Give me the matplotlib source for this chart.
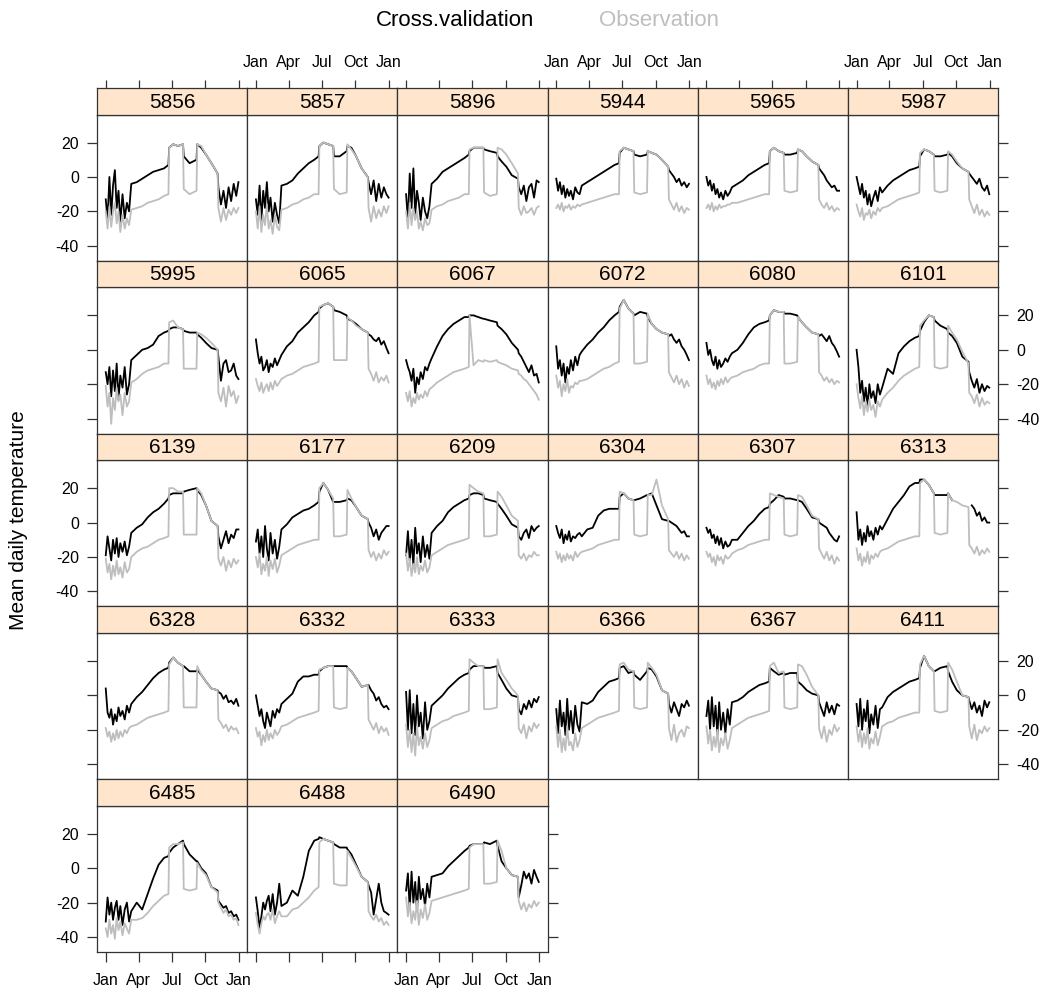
import numpy as np
import matplotlib
matplotlib.use("Agg")
import matplotlib.pyplot as plt

plt.rcParams['font.family'] = ['Liberation Sans', 'DejaVu Sans']

nan = np.nan

# day of year of each reading
days = [0, 5, 10, 15, 20, 25, 30, 35, 40, 46, 52, 58, 64, 70,
        85, 100, 115, 130, 145, 160,
        172, 174, 185, 198, 212, 214, 230, 249, 251, 262, 275, 290, 307, 309,
        316, 323, 330, 337, 344, 351, 358, 364]

stations = ["5856", "5857", "5896", "5944", "5965", "5987",
            "5995", "6065", "6067", "6072", "6080", "6101",
            "6139", "6177", "6209", "6304", "6307", "6313",
            "6328", "6332", "6333", "6366", "6367", "6411",
            "6485", "6488", "6490"]

cv_5856 = [-13, -25, 0, -22, -5, 4, -18, -8, -26, -10, -24, -15, -20, -4, -3, -1, 1, 3, 4, 5,
           7, 17, 19, 18, 19, 12, 8, 10, 19, 17, 13, 8, 2, -6, -16, -8, -18, -6, -14, -4, -11, -3]
obs_5856 = [-20, -30, -17, -29, -20, -15, -27, -20, -32, -22, -30, -24, -28, -19, -18, -17, -15, -14, -13, -11,
            -10, 17, 19, 18, 19, -7, -10, -8, 19, 18, 13, 8, 2, -18, -26, -18, -25, -19, -22, -18, -21, -18]
cv_5857 = [-13, -22, -5, -25, -8, -18, -3, -20, -12, -26, -15, -22, -27, -5, -4, -2, 2, 5, 8, 10,
           12, 18, 20, 19, 18, 12, 12, 15, 18, 17, 12, 5, 0, -3, -10, -2, -14, -4, -12, -6, -10, -12]
obs_5857 = [-20, -30, -17, -32, -22, -28, -16, -30, -25, -33, -22, -29, -31, -19, -18, -16, -15, -13, -12, -10,
            -10, 18, 20, 19, 18, -7, -10, -9, 19, 16, 12, 5, 0, -18, -26, -17, -24, -19, -23, -17, -21, -17]
cv_5896 = [-10, -25, 2, -18, 5, -22, -8, -15, -25, -12, -20, -24, -17, -4, -1, 3, 5, 7, 9, 11,
           13, 15, 17, 17, 17, 16, 15, 14, 12, 9, 6, 1, -1, -6, -10, -5, -14, -6, -4, -12, -2, -3]
obs_5896 = [-20, -30, -15, -28, -18, -25, -20, -30, -26, -31, -24, -28, -27, -19, -17, -16, -14, -13, -12, -10,
            -10, 16, 17, 17, 17, -9, -11, -10, 17, 16, 13, 8, 2, -18, -22, -17, -21, -20, -18, -22, -18, -17]
cv_5944 = [-1, -8, -3, -10, -5, -12, -7, -11, -8, -13, -6, -9, -10, -5, -3, -1, 1, 3, 5, 7,
           8, 14, 17, 16, 15, 13, 12, 13, 15, 14, 13, 10, 6, 4, 2, 0, -3, -1, -5, -3, -6, -4]
obs_5944 = [-18, -16, -19, -15, -20, -17, -18, -16, -19, -17, -18, -16, -17, -16, -15, -14, -13, -12, -11, -10,
            -10, 15, 17, 16, 15, -9, -10, -9, 15, 14, 13, 10, 6, -13, -16, -19, -15, -20, -17, -21, -18, -19]
cv_5965 = [0, -5, -2, -8, -4, -10, -7, -12, -9, -13, -8, -11, -9, -6, -4, -2, 1, 3, 5, 7,
           8, 15, 17, 15, 14, 13, 13, 14, 16, 15, 12, 9, 7, 5, 3, 1, -2, -4, -6, -5, -8, -8]
obs_5965 = [-18, -16, -19, -15, -20, -17, -19, -16, -18, -17, -17, -16, -16, -15, -15, -14, -13, -12, -11, -10,
            -10, 15, 17, 15, 14, -8, -9, -8, 16, 15, 12, 9, 7, -13, -16, -18, -15, -19, -17, -20, -18, -19]
cv_5987 = [0, -5, -10, -4, -12, -8, -16, -10, -17, -12, -8, -14, -6, -9, -5, -2, 0, 2, 4, 5,
           6, 12, 16, 15, 13, 12, 12, 13, 14, 12, 8, 5, 3, 2, 0, -2, -4, -1, -6, -8, -5, -10]
obs_5987 = [-16, -20, -23, -18, -25, -21, -22, -19, -24, -20, -22, -18, -20, -18, -17, -15, -13, -12, -11, -10,
            -9, 14, 16, 15, 13, -8, -9, -8, 15, 13, 9, 5, 3, -13, -17, -21, -16, -22, -19, -23, -20, -22]

cv_5995 = [-13, -20, -10, -27, -12, -24, -8, -29, -15, -22, -10, -26, -20, -6, -3, 0, 1, 3, 8, 10,
           11, 12, 13, 13, 12, 11, 10, 10, 9, 7, 4, 1, 0, -4, -18, -8, -6, -13, -12, -8, -15, -17]
obs_5995 = [-21, -33, -25, -43, -28, -35, -22, -30, -26, -38, -25, -33, -30, -19, -17, -14, -12, -11, -10, -8,
            -8, 16, 17, 13, 12, -11, -11, -11, 10, 9, 7, 4, 0, -25, -30, -22, -33, -21, -27, -24, -31, -27]
cv_6065 = [6, -2, -8, -4, -12, -10, -6, -13, -8, -10, -5, -9, -6, -3, 2, 5, 10, 13, 16, 20,
           22, 24, 26, 27, 25, 23, 22, 20, 18, 17, 15, 12, 10, 9, 8, 6, 5, 7, 3, 5, 1, -2]
obs_6065 = [-17, -21, -24, -19, -25, -22, -20, -24, -19, -23, -18, -21, -19, -17, -15, -14, -12, -10, -9, -8,
            -7, 25, 26, 27, 25, -6, -6, -6, 19, 17, 14, 12, 10, -11, -14, -18, -13, -19, -16, -18, -15, -19]
cv_6067 = [-6, -10, -13, -18, -11, -25, -16, -20, -13, -17, -10, -12, -8, -5, 2, 8, 12, 15, 17, 19,
           19, 20, 20, 19, 18, 18, 17, 16, 14, 12, 9, 4, 0, -2, -4, -7, -10, -13, -9, -15, -14, -19]
obs_6067 = [-25, -30, -24, -33, -28, -31, -25, -29, -26, -28, -24, -27, -23, -22, -19, -17, -15, -13, -12, -11,
            -10, 20, -9, -6, -7, -6, -7, -6, -7, -8, -9, -11, -12, -14, -15, -17, -18, -20, -22, -24, -26, -29]
cv_6072 = [2, -11, -6, -15, -8, -19, -10, -14, -6, -12, -4, -9, -3, -1, 3, 6, 10, 13, 17, 20,
           22, 25, 29, 24, 21, 20, 22, 21, 19, 15, 12, 10, 9, 8, 9, 6, 4, 6, 2, 0, -3, -6]
obs_6072 = [-15, -22, -18, -27, -20, -24, -17, -25, -21, -22, -19, -20, -18, -18, -17, -15, -13, -11, -10, -8,
            -7, 24, 29, 24, 21, -8, -8, -7, 21, 15, 12, 10, 9, -13, -16, -19, -15, -20, -17, -22, -18, -21]
cv_6080 = [4, -3, 0, -6, -9, -4, -11, -6, -10, -8, -5, -7, -4, -2, 0, 4, 9, 13, 15, 16,
           17, 20, 23, 22, 22, 21, 21, 20, 19, 16, 13, 10, 9, 8, 9, 7, 5, 8, 4, 2, -1, -4]
obs_6080 = [-15, -20, -17, -22, -19, -23, -18, -21, -17, -20, -16, -19, -17, -16, -15, -13, -12, -11, -9, -8,
            -8, 20, 23, 22, 22, -8, -8, -7, 19, 16, 13, 10, 9, -13, -15, -18, -16, -19, -17, -20, -18, -19]
cv_6101 = [0, -10, -25, -18, -30, -22, -33, -20, -28, -24, -31, -20, -26, -22, -11, -14, -2, 2, 5, 7,
           8, 11, 16, 20, 19, 17, 14, 12, 10, 8, 4, -4, -7, -13, -18, -22, -17, -25, -20, -24, -21, -22]
obs_6101 = [-20, -28, -34, -27, -38, -30, -36, -29, -35, -32, -39, -30, -33, -29, -25, -22, -18, -15, -13, -11,
            -10, 14, 17, 20, 19, -10, -11, -10, 14, 10, 6, -1, -8, -25, -27, -31, -26, -33, -28, -32, -30, -31]

cv_6139 = [-19, -8, -15, -22, -10, -18, -9, -20, -12, -17, -11, -19, -14, -6, -3, -1, 3, 6, 8, 11,
           14, 16, 17, 17, 17, 18, 19, 20, 19, 16, 10, 1, -2, -8, -15, -10, -5, -12, -7, -9, -4, -4]
obs_6139 = [-21, -29, -24, -33, -25, -31, -22, -30, -26, -32, -23, -29, -27, -20, -17, -15, -14, -12, -10, -9,
            -8, 20, 20, 18, 18, -7, -7, -7, 20, 17, 10, 1, -2, -21, -25, -20, -28, -22, -26, -21, -24, -22]
cv_6177 = [-11, -4, -18, -8, -20, -2, -15, -22, -6, -18, -10, -21, -14, -4, -1, 3, 5, 7, 8, 10,
           12, 18, 23, 19, 12, 12, 12, 13, 14, 13, 9, 4, 2, 0, -3, -8, -4, -10, -6, -4, -2, -2]
obs_6177 = [-20, -26, -18, -30, -24, -28, -20, -31, -22, -27, -21, -29, -25, -19, -17, -15, -13, -12, -11, -10,
            -10, 20, 23, 19, 14, -8, -8, -7, 19, 14, 9, 4, 2, -16, -20, -17, -22, -18, -21, -16, -19, -17]
cv_6209 = [-19, -5, -22, -10, -25, -3, -18, -12, -23, -8, -20, -13, -21, -6, -2, 1, 6, 9, 11, 13,
           14, 16, 17, 17, 16, 14, 13, 12, 11, 8, 4, -1, -3, -8, -10, -6, -4, -9, -2, -5, -3, -2]
obs_6209 = [-18, -28, -21, -31, -24, -29, -20, -30, -25, -28, -22, -29, -26, -19, -17, -15, -13, -12, -11, -10,
            -9, 22, 20, 18, 17, -8, -8, -7, 18, 15, 10, 4, 1, -19, -21, -18, -22, -19, -20, -17, -19, -19]
cv_6304 = [-2, -6, -9, -4, -12, -7, -10, -5, -11, -8, -9, -7, -6, -8, -4, -3, 4, 7, 8, 8,
           8, 15, 17, 14, 13, 13, 14, 16, 16, 17, 10, 2, 1, 1, 0, -1, -2, -4, -6, -5, -8, -8]
obs_6304 = [-17, -21, -18, -23, -19, -22, -18, -21, -19, -22, -17, -20, -18, -17, -16, -15, -13, -12, -11, -10,
            -10, 18, 17, 14, 13, -7, -8, -7, 16, 16, 25, 10, 2, -16, -18, -20, -17, -21, -18, -22, -19, -21]
cv_6307 = [-3, -6, -4, -9, -7, -12, -8, -13, -9, -15, -11, -14, -13, -10, -10, -6, -2, 1, 5, 8,
           9, 11, 13, 16, 15, 14, 14, 13, 13, 12, 8, 3, 2, 0, -1, -2, -3, -6, -8, -10, -11, -8]
obs_6307 = [-17, -20, -18, -23, -20, -25, -19, -22, -20, -24, -19, -21, -20, -18, -16, -15, -13, -12, -11, -10,
            -10, 17, 16, 15, 14, -7, -8, -7, 16, 15, 10, 4, 2, -15, -18, -21, -17, -22, -19, -24, -20, -22]
cv_6313 = [6, -10, -4, -13, -6, -11, -2, -8, -5, -10, -3, -7, -2, -4, 2, 8, 12, 16, 21, 23,
           23, 25, 25, 22, 17, 16, 16, 16, 17, 13, nan, nan, nan, nan, 10, 8, 4, 6, 1, 3, 0, 0]
obs_6313 = [-15, -22, -18, -25, -20, -23, -17, -24, -19, -21, -18, -20, -17, -16, -15, -13, -11, -10, -9, -8,
            -8, 23, 25, 22, 17, -6, -7, -6, 17, 13, 12, 10, 9, -13, -15, -18, -14, -19, -16, -18, -15, -17]

cv_6328 = [4, -10, -13, -8, -17, -11, -15, -7, -12, -9, -14, -6, -10, -5, -1, 2, 6, 10, 13, 15,
           16, 19, 22, 19, 17, 17, 14, 14, 15, 12, 8, 4, 3, 2, 1, -2, 0, -4, -3, -5, -2, -6]
obs_6328 = [-19, -24, -21, -27, -22, -26, -20, -25, -21, -24, -20, -22, -19, -18, -17, -15, -13, -12, -11, -10,
            -9, 18, 22, 19, 17, -7, -7, -7, 17, 12, 8, 4, 3, -14, -16, -19, -17, -21, -18, -20, -19, -22]
cv_6332 = [0, -6, -12, -8, -15, -19, -10, -14, -18, -9, -13, -8, -10, -5, -2, 1, 8, 11, 11, 12,
           12, 14, 16, 17, 17, 17, 17, 17, 16, 14, 10, 5, 6, 6, 3, 1, -3, -1, -5, -7, -6, -8]
obs_6332 = [-19, -24, -21, -29, -23, -27, -20, -26, -22, -25, -20, -23, -21, -18, -17, -15, -13, -12, -11, -10,
            -9, 15, 16, 17, 17, -7, -8, -7, 16, 14, 10, 5, 6, -14, -17, -20, -16, -22, -18, -21, -19, -23]
cv_6333 = [2, -20, 3, -22, -5, -23, 0, -18, -10, -25, -4, -20, -15, -6, -3, 0, 4, 7, 10, 12,
           13, 15, 17, 17, 17, 16, 16, 17, 13, 9, 4, 0, -1, -8, -11, -5, -8, -3, -7, -2, -4, -1]
obs_6333 = [-17, -30, -20, -33, -22, -35, -18, -29, -24, -31, -22, -30, -26, -19, -17, -15, -14, -12, -11, -10,
            -9, 21, 19, 17, 17, -8, -8, -7, 21, 13, 9, 4, 0, -19, -22, -17, -25, -18, -21, -16, -19, -17]
cv_6366 = [-8, -22, -3, -18, -10, -23, -2, -20, -9, -22, -6, -17, -21, -4, -5, -3, 2, 5, 8, 9,
           10, 16, 17, 13, 14, 12, 9, 14, 16, 15, 11, 3, 1, -5, -10, -4, -8, -12, -5, -7, -3, -6]
obs_6366 = [-18, -30, -20, -33, -25, -32, -18, -29, -27, -32, -22, -30, -26, -19, -17, -15, -13, -12, -11, -10,
            -9, 18, 19, 15, 14, -7, -8, -7, 19, 16, 12, 3, 1, -19, -26, -17, -27, -22, -20, -24, -18, -19]
cv_6367 = [-12, -3, -20, -1, -18, -6, -23, -4, -20, -10, -22, -8, -17, -4, -3, -1, 2, 4, 6, 7,
           8, 16, 14, 12, 13, 12, 13, 13, 8, 6, 3, 1, 0, -4, -8, -12, -4, -10, -6, -11, -5, -6]
obs_6367 = [-18, -28, -20, -32, -24, -30, -20, -33, -25, -29, -22, -31, -26, -19, -17, -15, -13, -12, -11, -10,
            -9, 17, 19, 13, 14, -7, -8, -7, 18, 17, 12, 5, 0, -19, -25, -18, -27, -20, -23, -17, -21, -19]
cv_6411 = [-5, -18, -2, -20, -8, -15, -3, -22, -11, -17, -6, -19, -8, -7, -1, 2, 4, 6, 8, 9,
           10, 16, 23, 17, 14, 14, 16, 17, 14, 8, 3, 0, -1, -3, -8, -4, -10, -6, -12, -3, -7, -4]
obs_6411 = [-18, -27, -20, -30, -22, -28, -19, -31, -25, -28, -21, -29, -24, -18, -16, -15, -13, -12, -11, -10,
            -10, 18, 23, 17, 14, -9, -10, -9, 19, 15, 8, 0, -1, -18, -25, -17, -26, -20, -22, -18, -21, -19]

cv_6485 = [-31, -17, -27, -20, -30, -23, -19, -30, -22, -33, -24, -20, -31, -25, -20, -24, -15, -6, 2, 6,
           7, 9, 12, 14, 16, 14, 8, 4, 4, 0, -3, -11, -13, -19, -21, -23, -22, -26, -25, -28, -27, -30]
obs_6485 = [-35, -40, -30, -38, -33, -41, -29, -36, -31, -39, -32, -35, -38, -30, -30, -29, -26, -22, -19, -16,
            -15, 12, 14, 14, 15, -12, -13, -12, 3, -1, -4, -11, -14, -20, -23, -26, -24, -28, -27, -30, -29, -33]
cv_6488 = [-17, -25, -35, -28, -20, -24, -19, -16, -25, -15, -27, -20, -9, -22, -20, -13, -16, -5, 10, 16,
           17, 18, 17, 16, 15, 14, 12, 12, 11, 8, 2, -5, -8, -10, -14, -27, -18, -9, -20, -25, -26, -27]
obs_6488 = [-26, -33, -38, -32, -28, -30, -27, -26, -30, -24, -32, -28, -25, -28, -28, -24, -23, -20, -17, -13,
            -11, 15, 17, 16, 15, -9, -10, -10, 10, 6, 1, -5, -8, -25, -28, -30, -27, -31, -29, -33, -31, -33]
cv_6490 = [-13, -3, -24, -2, -20, -8, -25, -5, -18, -12, -22, -9, -17, -5, -4, -3, 1, 4, 7, 10,
           12, 13, 14, 14, 14, 15, 14, 16, 13, 4, 0, -4, -5, -17, -10, -2, -6, -3, -9, -1, -5, -8]
obs_6490 = [-17, -28, -20, -32, -25, -30, -19, -33, -24, -29, -21, -30, -26, -19, -18, -17, -16, -15, -14, -13,
            -12, 12, 14, 14, 14, -9, -9, -8, 16, 10, 0, -4, -5, -19, -24, -20, -25, -21, -23, -19, -22, -20]

cross_val = {
    "5856": cv_5856, "5857": cv_5857, "5896": cv_5896, "5944": cv_5944, "5965": cv_5965, "5987": cv_5987,
    "5995": cv_5995, "6065": cv_6065, "6067": cv_6067, "6072": cv_6072, "6080": cv_6080, "6101": cv_6101,
    "6139": cv_6139, "6177": cv_6177, "6209": cv_6209, "6304": cv_6304, "6307": cv_6307, "6313": cv_6313,
    "6328": cv_6328, "6332": cv_6332, "6333": cv_6333, "6366": cv_6366, "6367": cv_6367, "6411": cv_6411,
    "6485": cv_6485, "6488": cv_6488, "6490": cv_6490}
observed = {
    "5856": obs_5856, "5857": obs_5857, "5896": obs_5896, "5944": obs_5944, "5965": obs_5965, "5987": obs_5987,
    "5995": obs_5995, "6065": obs_6065, "6067": obs_6067, "6072": obs_6072, "6080": obs_6080, "6101": obs_6101,
    "6139": obs_6139, "6177": obs_6177, "6209": obs_6209, "6304": obs_6304, "6307": obs_6307, "6313": obs_6313,
    "6328": obs_6328, "6332": obs_6332, "6333": obs_6333, "6366": obs_6366, "6367": obs_6367, "6411": obs_6411,
    "6485": obs_6485, "6488": obs_6488, "6490": obs_6490}

month_ticks = [0, 90, 181, 273, 365]
month_labels = ["Jan", "Apr", "Jul", "Oct", "Jan"]
temp_ticks = [-40, -20, 0, 20]

obs_col = "#BEBEBE"
strip_col = "#FFE5CC"
edge_col = "#333333"

W, H = 1048, 994
fig = plt.figure(figsize=(W / 100, H / 100), dpi=100)

# layout in pixels
left0, col_w = 97, 150.17
top0, row_h, strip_h = 88, 172.8, 26.5
ncol = 6
xlim = (-24, 388)
ylim = (-48.7, 36.3)

n = len(stations)
for i, st in enumerate(stations):
    r, c = divmod(i, ncol)
    x0 = (left0 + c * col_w) / W
    ytop = top0 + r * row_h
    ax = fig.add_axes([x0, 1 - (ytop + row_h) / H, col_w / W, (row_h - strip_h) / H])
    sx = fig.add_axes([x0, 1 - (ytop + strip_h) / H, col_w / W, strip_h / H])

    ax.plot(days, cross_val[st], color="black", lw=1.3)
    ax.plot(days, observed[st], color=obs_col, lw=1.3)
    ax.set_xlim(*xlim)
    ax.set_ylim(*ylim)

    sx.set_facecolor(strip_col)
    sx.set_xlim(*xlim)
    sx.set_ylim(0, 1)
    sx.text(0.5, 0.47, st, transform=sx.transAxes, ha="center", va="center", fontsize=15)

    for a in (ax, sx):
        for s in a.spines.values():
            s.set_color(edge_col)
            s.set_linewidth(0.9)
        a.set_xticks([])
        a.set_yticks([])
        a.tick_params(direction="out", length=7, width=0.9, color=edge_col,
                      labelsize=11.5, pad=3)

    # top axis (above strips of first row)
    if r == 0:
        sx.set_xticks(month_ticks)
        sx.set_xticklabels(month_labels)
        sx.tick_params(axis="x", top=True, bottom=False, labeltop=(c % 2 == 1), labelbottom=False,
                       length=6, pad=7)
    # bottom axis
    if r == 4:
        ax.set_xticks(month_ticks)
        ax.set_xticklabels(month_labels)
        ax.tick_params(axis="x", bottom=True, labelbottom=(c % 2 == 0), pad=8)
    # left / right y axes
    last_in_row = (c == ncol - 1) or (i == n - 1)
    if c == 0 or last_in_row:
        ax.set_yticks(temp_ticks)
        ax.set_yticklabels([str(t) for t in temp_ticks])
        ax.tick_params(axis="y", left=(c == 0), labelleft=(c == 0 and r % 2 == 0),
                       right=last_in_row, labelright=(last_in_row and r % 2 == 1 and c == ncol - 1),
                       pad=6)

# key at the top
fig.text(455 / W, 1 - 20 / H, "Cross.validation", ha="center", va="center", fontsize=16)
fig.text(659 / W, 1 - 20 / H, "Observation", ha="center", va="center", fontsize=16, color=obs_col)

fig.text(19 / W, 1 - 520 / H, "Mean daily temperature", rotation=90,
         ha="center", va="center", fontsize=15)

fig.savefig("out.png", dpi=100)
